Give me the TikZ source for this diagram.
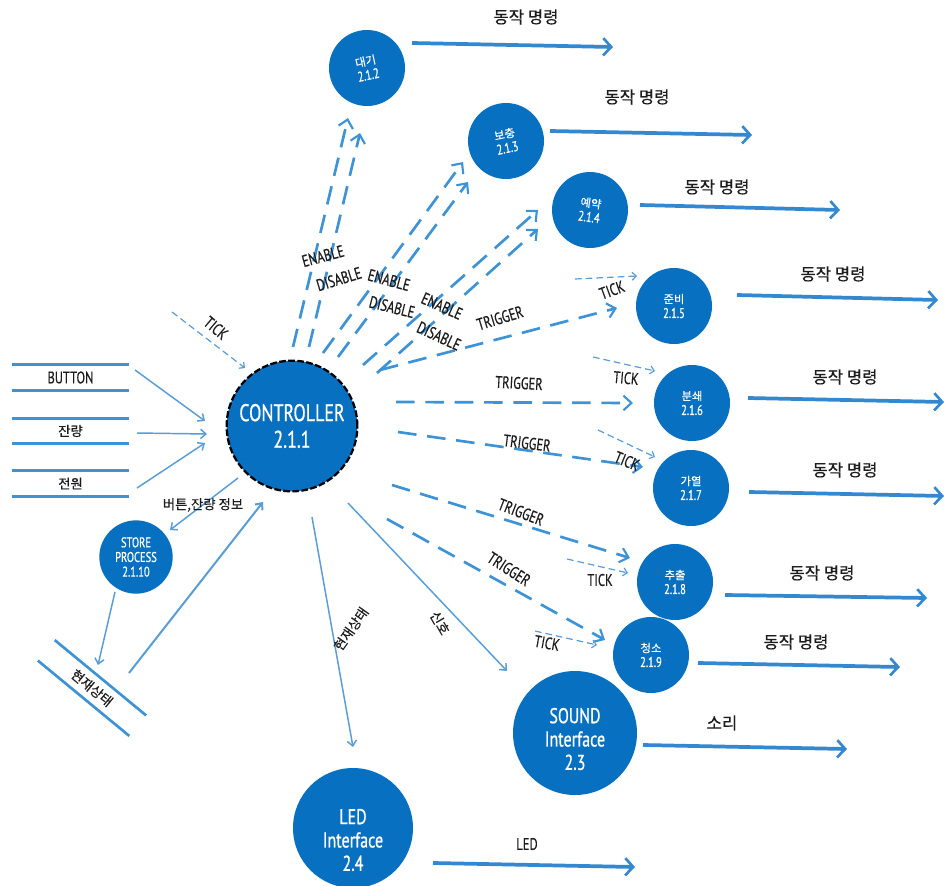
\documentclass[tikz,border=0pt]{standalone}
\usepackage{fontspec}
\setmainfont{PT Sans}[FakeBold=0.5]
\newfontfamily\kr{Noto Sans CJK KR}[FakeBold=0.4]
\newfontfamily\circfont{PT Sans}[FakeBold=0.9]
\usetikzlibrary{arrows.meta,calc}

\definecolor{procblue}{RGB}{8,112,192}
\definecolor{flowblue}{RGB}{62,146,214}
\definecolor{thinblue}{RGB}{88,156,216}
\definecolor{outblue}{RGB}{52,136,208}
\definecolor{ink}{RGB}{28,28,28}

% condensed setting of Latin text
\newcommand\nar[1]{\scalebox{0.75}[1]{#1}}
\newcommand\krsm[1]{{\kr\fontsize{8.5}{11}\selectfont #1}}

\begin{document}
\begin{tikzpicture}[x=0.75pt,y=-0.75pt,
  proc/.style={circle,fill=procblue,text=white,inner sep=0pt,align=center,
    minimum size=#1,font=\circfont\fontsize{10.5}{11}\selectfont},
  proc/.default=57pt,
  bigproc/.style={circle,fill=procblue,text=white,inner sep=0pt,align=center,
    minimum size=#1},
  bigtxt/.style={text=white,align=center,font=\circfont\fontsize{16}{17.5}\selectfont},
  ctrlproc/.style={circle,fill=procblue,draw=black,line width=1.7pt,
    dash pattern=on 5pt off 1.8pt,text=white,inner sep=0pt,align=center,
    minimum size=98pt,font=\circfont\fontsize{18}{20}\selectfont},
  datastore/.style={inner sep=0pt,minimum width=#1,minimum height=18.75pt,
    text=ink,font=\fontsize{12.5}{13}\selectfont},
  storeline/.style={draw=flowblue,line width=2pt},
  flow/.style={draw=thinblue,line width=1.1pt,-{Straight Barb[length=4pt,width=7pt]}},
  ctlflow/.style={draw=flowblue,line width=2pt,dash pattern=on 14pt off 8pt,
    -{Straight Barb[length=6pt,width=11pt,line width=1.6pt]}},
  tickflow/.style={draw=thinblue,line width=0.9pt,dash pattern=on 5pt off 3pt,
    -{Straight Barb[length=3pt,width=6pt]}},
  outflow/.style={draw=outblue,line width=2.8pt,
    -{Straight Barb[length=6pt,width=13pt,line width=2pt]}},
  lbl/.style={text=ink,inner sep=0pt,font=\fontsize{12.5}{13}\selectfont},
  krlbl/.style={text=ink,inner sep=0pt,font=\kr\fontsize{10}{11}\selectfont},
  cmdlbl/.style={text=ink,inner sep=0pt,font=\kr\fontsize{12.5}{13}\selectfont},
]
\useasboundingbox[fill=white] (0,0) rectangle (947,886);

% ---------- processes ----------
\node[ctrlproc] (ctrl) at (292,426) {\nar{CONTROLLER}\\\nar{2.1.1}};
\node[proc,rotate=12] (dg) at (367,68)  {\krsm{대기}\\\nar{2.1.2}};
\node[proc,rotate=12] (bc) at (506,141) {\krsm{보충}\\\nar{2.1.3}};
\node[proc,rotate=-8] (yy) at (590,210) {\krsm{예약}\\\nar{2.1.4}};
\node[proc] (jb) at (674,306) {\krsm{준비}\\\nar{2.1.5}};
\node[proc] (bs) at (692,403) {\krsm{분쇄}\\\nar{2.1.6}};
\node[proc] (gy) at (691,488) {\krsm{가열}\\\nar{2.1.7}};
\node[proc] (cc) at (675,582) {\krsm{추출}\\\nar{2.1.8}};
\node[proc] (cs) at (651,655) {\krsm{청소}\\\nar{2.1.9}};
\node[proc=55pt] (store) at (136,557) {\nar{STORE}\\\nar{PROCESS}\\\nar{2.1.10}};
\node[bigproc=93pt] (snd) at (575,733) {};
\node[bigtxt] (sndtxt) at ($(snd.center)+(0,6)$) {\nar{SOUND}\\\nar{Interface}\\\nar{2.3}};
\node[bigproc=90pt] (led) at (353,828) {};
\node[bigtxt] (ledtxt) at ($(led.center)+(0,12)$) {\nar{LED}\\\nar{Interface}\\\nar{2.4}};

% ---------- data stores ----------
\node[datastore=87.75pt] (btn) at (70.5,377.5) {\nar{BUTTON}};
\node[datastore=87.75pt,font=\kr\fontsize{10}{11}\selectfont] (rem) at (70.5,431) {잔량};
\node[datastore=87.75pt,font=\kr\fontsize{10}{11}\selectfont] (pwr) at (70.5,483.5) {전원};
\node[datastore=88.5pt,minimum height=19.5pt,rotate=-39.5,
      font=\kr\fontsize{10}{11}\selectfont] (cur) at (92,688) {현재상태};
\foreach \s in {btn,rem,pwr,cur}
  \draw[storeline] (\s.north west) -- (\s.north east)
                   (\s.south west) -- (\s.south east);

% ---------- connector end points ----------
\coordinate (btnS) at (135,370);  \coordinate (btnE) at (205,421);
\coordinate (remS) at (137,433);  \coordinate (remE) at (207,434);
\coordinate (pwrS) at (137,488);  \coordinate (pwrE) at (205,443);
\coordinate (tk0S) at (172,312);  \coordinate (tk0E) at (245,368);
\coordinate (stoS) at (238,478);  \coordinate (stoE) at (170,530);
\coordinate (curS) at (115,592);  \coordinate (curE) at (98,665);
\coordinate (rdS)  at (129,673);  \coordinate (rdE)  at (263,502);

\coordinate (dgS1) at (293,347);  \coordinate (dgE1) at (348,118);
\coordinate (dgS2) at (309,347);  \coordinate (dgE2) at (360,133);
\coordinate (bcS1) at (323,353);  \coordinate (bcE1) at (463,162);
\coordinate (bcS2) at (338,357);  \coordinate (bcE2) at (468,182);
\coordinate (yyS1) at (363,365);  \coordinate (yyE1) at (538,210);
\coordinate (yyS2) at (377,373);  \coordinate (yyE2) at (538,229);
\coordinate (jbS)  at (380,370);  \coordinate (jbE)  at (617,308);
\coordinate (bsS)  at (396,402);  \coordinate (bsE)  at (633,403);
\coordinate (gyS)  at (398,432);  \coordinate (gyE)  at (643,467);
\coordinate (ccS)  at (392,485);  \coordinate (ccE)  at (630,558);
\coordinate (csS)  at (387,519);  \coordinate (csE)  at (605,640);
\coordinate (sndS) at (348,503);  \coordinate (sndE) at (507,671);
\coordinate (ledS) at (312,517);  \coordinate (ledE) at (353,747);

\coordinate (tjS) at (575,279);   \coordinate (tjE) at (637,276);
\coordinate (tbS) at (593,357);   \coordinate (tbE) at (655,371);
\coordinate (tgS) at (598,430);   \coordinate (tgE) at (655,457);
\coordinate (tcS) at (567,559);   \coordinate (tcE) at (628,573);
\coordinate (tsS) at (535,631);   \coordinate (tsE) at (597,645);

\coordinate (odgS) at (412,43);   \coordinate (odgE) at (613,47);
\coordinate (obcS) at (550,131);  \coordinate (obcE) at (752,135);
\coordinate (oyyS) at (640,205);  \coordinate (oyyE) at (840,210);
\coordinate (ojbS) at (737,295);  \coordinate (ojbE) at (938,300);
\coordinate (obsS) at (748,398);  \coordinate (obsE) at (944,402);
\coordinate (ogyS) at (749,492);  \coordinate (ogyE) at (944,496);
\coordinate (occS) at (725,595);  \coordinate (occE) at (927,598);
\coordinate (ocsS) at (698,663);  \coordinate (ocsE) at (900,667);
\coordinate (osnS) at (643,745);  \coordinate (osnE) at (847,749);
\coordinate (oldS) at (433,863);  \coordinate (oldE) at (635,867);

% ---------- data flows into and out of the controller ----------
\draw[flow] (btnS) -- (btnE);
\draw[flow] (remS) -- (remE);
\draw[flow] (pwrS) -- (pwrE);
\draw[tickflow] (tk0S) -- (tk0E);
\draw[flow] (stoS) -- (stoE);
\draw[flow] (curS) -- (curE);
\draw[flow,line width=1.5pt] (rdS) -- (rdE);
\draw[flow] (sndS) -- (sndE);
\draw[flow] (ledS) -- (ledE);

% ---------- control flows ----------
\foreach \p in {dg,bc,yy}{
  \draw[ctlflow] (\p S1) -- (\p E1);
  \draw[ctlflow] (\p S2) -- (\p E2);
}
\foreach \p in {jb,bs,gy,cc,cs}
  \draw[ctlflow] (\p S) -- (\p E);

% ---------- clock ticks ----------
\foreach \p in {tj,tb,tg,tc,ts}
  \draw[tickflow] (\p S) -- (\p E);

% ---------- actuator outputs ----------
\foreach \p in {odg,obc,oyy,ojb,obs,ogy,occ,ocs,osn,old}
  \draw[outflow] (\p S) -- (\p E);

% ---------- labels ----------
\node[lbl,rotate=-40] (l_tk0) at (216,328) {\nar{TICK}};
\node[krlbl] (l_sto) at (203,505) {버튼,잔량 정보};
\node[lbl,rotate=15]  (l_en1) at (323,256) {\nar{ENABLE}};
\node[lbl,rotate=17]  (l_di1) at (339,279) {\nar{DISABLE}};
\node[lbl,rotate=-15] (l_en2) at (389,280) {\nar{ENABLE}};
\node[lbl,rotate=-14] (l_di2) at (392,307) {\nar{DISABLE}};
\node[lbl,rotate=-24] (l_en3) at (442,306) {\nar{ENABLE}};
\node[lbl,rotate=-25] (l_di3) at (439,336) {\nar{DISABLE}};
\node[lbl,rotate=17]  (l_tr1) at (500,318) {\nar{TRIGGER}};
\node[lbl,rotate=-3]  (l_tr2) at (519,383) {\nar{TRIGGER}};
\node[lbl,rotate=-7]  (l_tr3) at (527,443) {\nar{TRIGGER}};
\node[lbl,rotate=-21] (l_tr4) at (521,512) {\nar{TRIGGER}};
\node[lbl,rotate=-33] (l_tr5) at (509,569) {\nar{TRIGGER}};
\node[lbl,rotate=20]  (l_tk1) at (612,290) {\nar{TICK}};
\node[lbl,rotate=-5]  (l_tk2) at (626,378) {\nar{TICK}};
\node[lbl,rotate=-22] (l_tk3) at (627,461) {\nar{TICK}};
\node[lbl]            (l_tk4) at (600,580) {\nar{TICK}};
\node[lbl,rotate=-10] (l_tk5) at (547,643) {\nar{TICK}};
\node[krlbl,rotate=-60] (l_sig) at (440,623) {신호};
\node[krlbl,rotate=55]  (l_st)  at (351,629) {현재상태};

\foreach \p/\x/\y in {dg/526/17,bc/637/97,yy/717/187,jb/833/274,bs/845/377,
                      gy/845/470,cc/822/573,cs/796/642}
  \node[cmdlbl] (cmd\p) at (\x,\y) {동작 명령};
\node[cmdlbl] (l_snd) at (722,723) {소리};
\node[lbl] (l_led) at (527,844) {\nar{LED}};
\end{tikzpicture}
\end{document}
